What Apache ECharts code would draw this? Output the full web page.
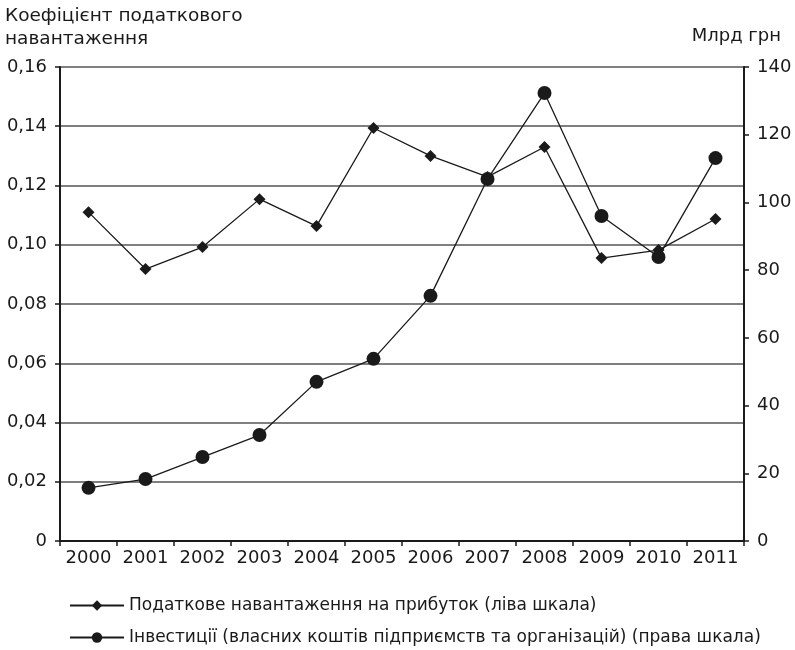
<!DOCTYPE html>
<html>
<head>
<meta charset="utf-8">
<script src="https://cdn.jsdelivr.net/npm/echarts@6/dist/echarts.min.js"></script>
<style>
  html, body { margin: 0; padding: 0; background: #fff; }
  #chart { width: 795px; height: 650px; }
</style>
</head>
<body>
<div id="chart"></div>
<script>
// Years on the category axis
const years = ['2000', '2001', '2002', '2003', '2004', '2005', '2006', '2007', '2008', '2009', '2010', '2011'];
// Tax burden coefficient on profit (left scale)
const taxBurden = [0.111, 0.0918, 0.0992, 0.1154, 0.1063, 0.1394, 0.1300, 0.1229, 0.1330, 0.0955, 0.0982, 0.1087];
// Investments from own funds of enterprises, bn UAH (right scale)
const investments = [15.7, 18.3, 24.8, 31.3, 47.0, 53.8, 72.4, 106.9, 132.3, 96.0, 83.9, 113.1];

const font = '"DejaVu Sans", "Liberation Sans", sans-serif';
const ink = '#1a1a1a';

const chart = echarts.init(document.getElementById('chart'), null, { renderer: 'canvas' });
chart.setOption({
  animation: false,
  backgroundColor: '#fff',
  textStyle: { fontFamily: font, color: ink },
  grid: { left: 60, right: 51, top: 67, bottom: 109, containLabel: false },
  graphic: [
    { type: 'text', left: 5, top: 5, style: { text: 'Коефіцієнт податкового\nнавантаження', font: '18.5px ' + font, fill: ink, lineHeight: 23 } },
    { type: 'text', right: 14, top: 27, style: { text: 'Млрд грн', font: '18px ' + font, fill: ink } }
  ],
  legend: {
    orient: 'vertical',
    left: 69,
    top: 597,
    height: 80,
    padding: 0,
    itemWidth: 54,
    itemHeight: 13,
    itemGap: 15,
    textStyle: { fontFamily: font, fontSize: 17, color: ink },
    data: [
      { name: 'Податкове навантаження на прибуток (ліва шкала)' },
      { name: 'Інвестиції (власних коштів підприємств та організацій) (права шкала)' }
    ]
  },
  xAxis: {
    type: 'category',
    data: years,
    boundaryGap: true,
    axisLine: { lineStyle: { color: ink, width: 2 } },
    axisTick: { show: true, interval: 0, length: 5, lineStyle: { color: ink, width: 1.5 } },
    axisLabel: { interval: 0, hideOverlap: false, fontFamily: font, fontSize: 18, color: ink, margin: 8 }
  },
  yAxis: [
    {
      type: 'value', min: 0, max: 0.16, interval: 0.02, position: 'left',
      axisLine: { show: true, lineStyle: { color: ink, width: 2 } },
      axisTick: { show: true, length: 5, lineStyle: { color: ink, width: 1.5 } },
      splitLine: { show: true, lineStyle: { color: '#555', width: 1.5 } },
      axisLabel: {
        fontFamily: font, fontSize: 18, color: ink, margin: 13,
        formatter: v => v === 0 ? '0' : v.toFixed(2).replace('.', ',')
      }
    },
    {
      type: 'value', min: 0, max: 140, interval: 20, position: 'right',
      axisLine: { show: true, lineStyle: { color: ink, width: 2 } },
      axisTick: { show: true, length: 5, lineStyle: { color: ink, width: 1.5 } },
      splitLine: { show: false },
      axisLabel: { fontFamily: font, fontSize: 18, color: ink, margin: 13 }
    }
  ],
  series: [
    {
      name: 'Податкове навантаження на прибуток (ліва шкала)',
      type: 'line',
      yAxisIndex: 0,
      data: taxBurden,
      symbol: 'diamond',
      symbolSize: 12,
      itemStyle: { color: ink },
      lineStyle: { color: ink, width: 1.3 },
      z: 3
    },
    {
      name: 'Інвестиції (власних коштів підприємств та організацій) (права шкала)',
      type: 'line',
      yAxisIndex: 1,
      data: investments,
      symbol: 'circle',
      symbolSize: 14,
      itemStyle: { color: ink },
      lineStyle: { color: ink, width: 1.3 },
      z: 4
    }
  ]
});
</script>
</body>
</html>
